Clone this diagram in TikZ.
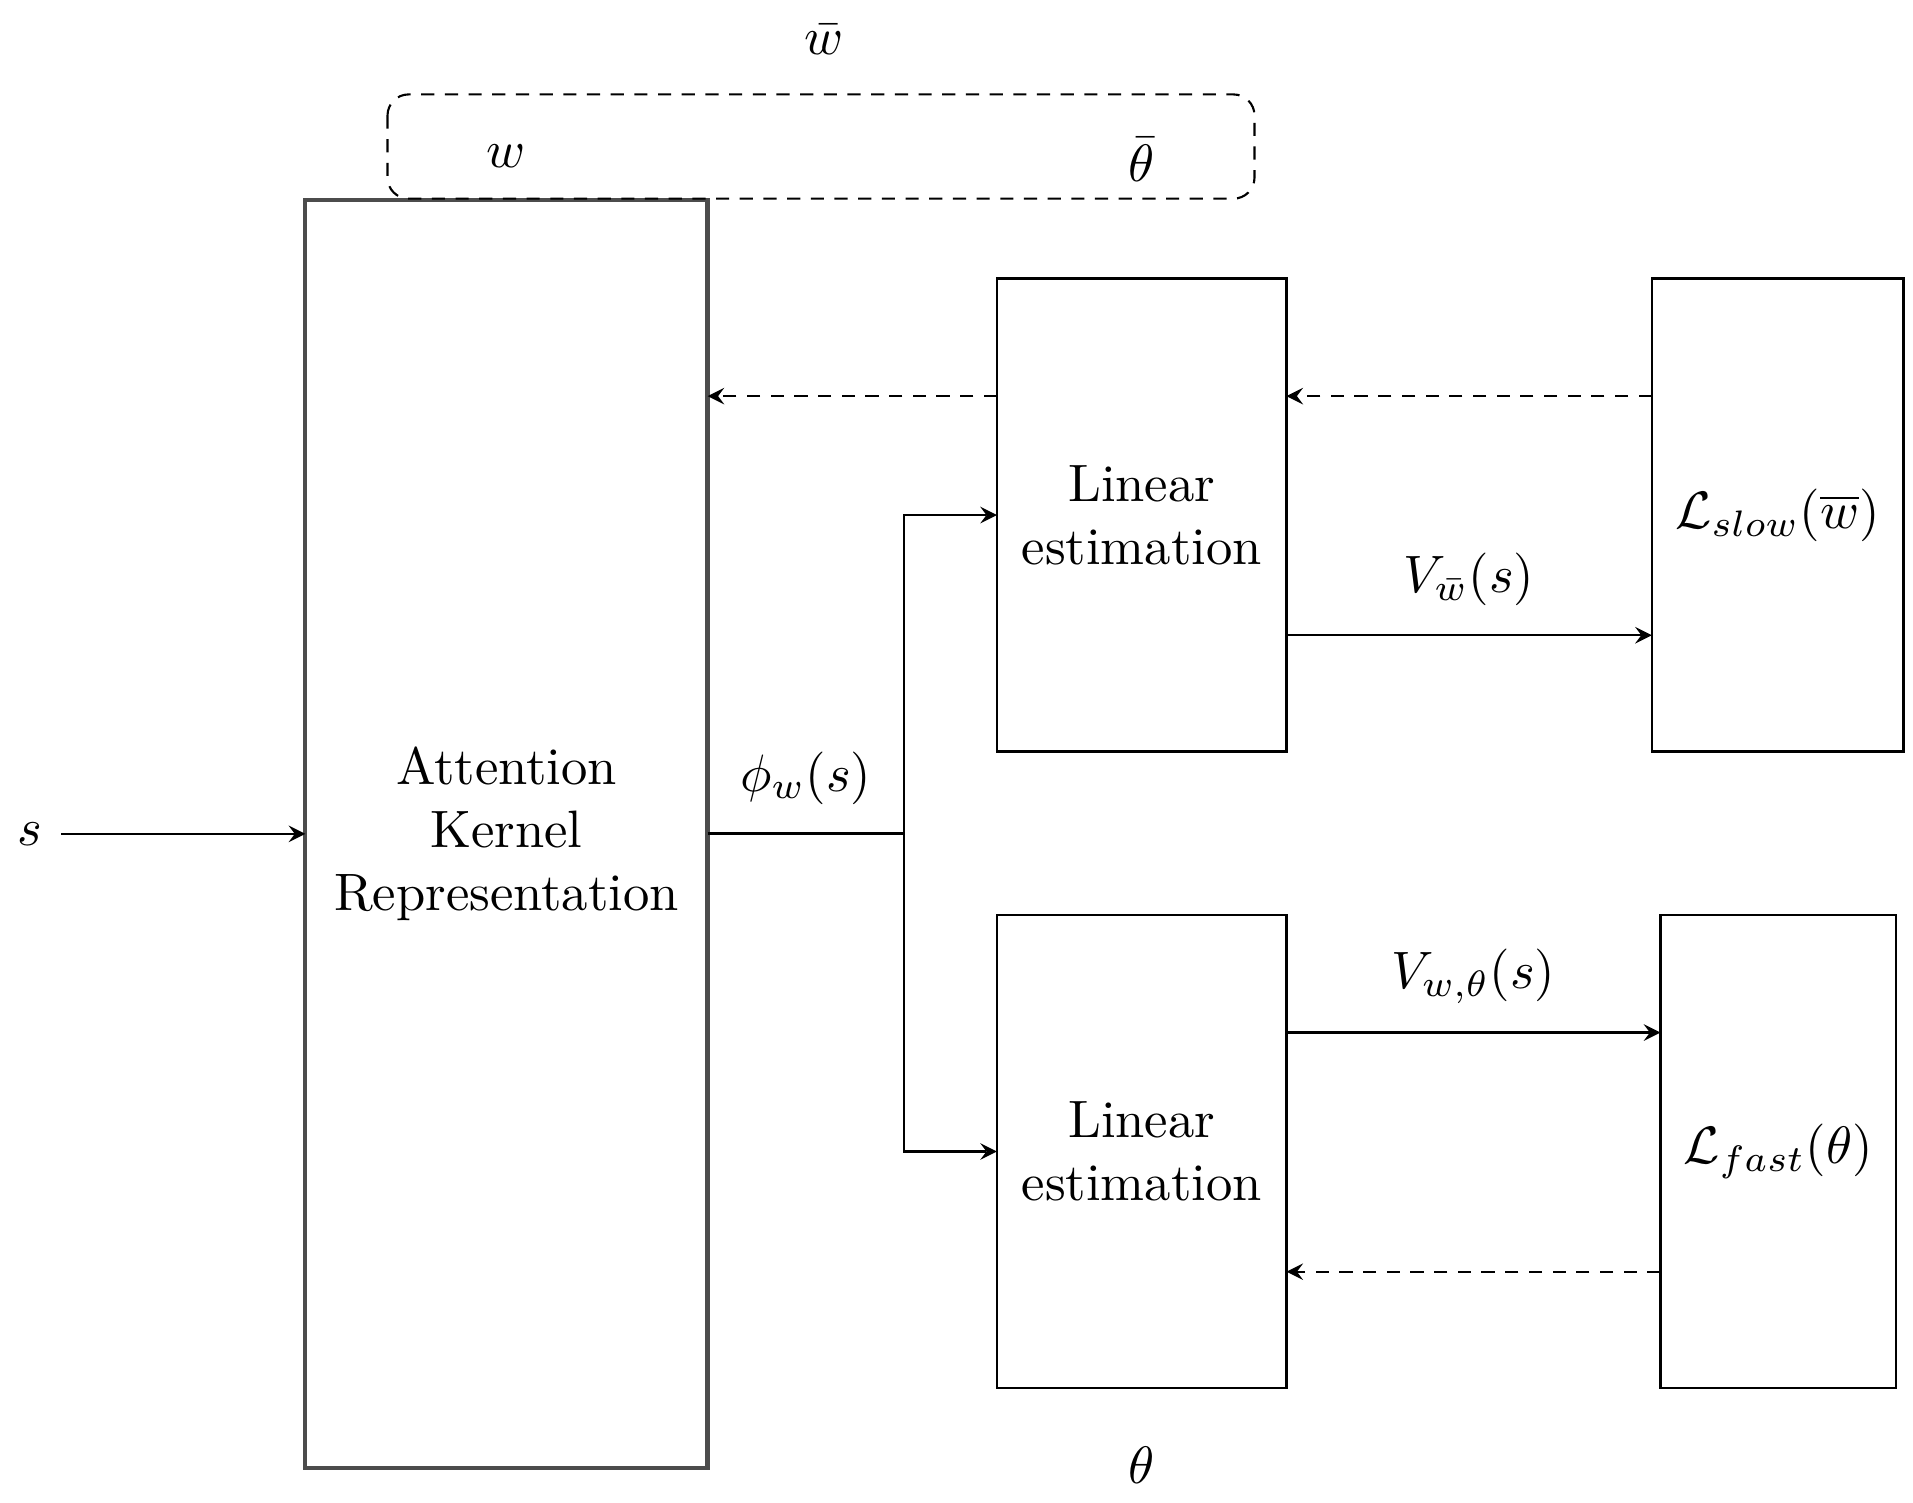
\documentclass[tikz,border=0pt]{standalone}
\usepackage{amsmath}
\begin{document}
\begin{tikzpicture}[x=0.233pt,y=-0.233pt,
  box/.style={draw,line width=0.5pt,inner sep=0pt,outer sep=0pt,align=center},
  arr/.style={->,>=stealth,line width=0.4pt},
  darr/.style={->,>=stealth,dash pattern=on 2.5pt off 2pt,line width=0.4pt}]
\useasboundingbox (0,0) rectangle (1560,1225);
\node[box,minimum width=328*0.233pt,minimum height=1034*0.233pt,draw=black!70,line width=0.8pt] (att) at (413,680) {Attention\\Kernel\\Representation};
\node[box,minimum width=236*0.233pt,minimum height=386*0.233pt] (lin1) at (931,420) {Linear\\estimation};
\node[box,minimum width=205*0.233pt,minimum height=386*0.233pt] (ls) at (1449.5,420) {$\mathcal{L}_{slow}(\overline{w})$};
\node[box,minimum width=236*0.233pt,minimum height=386*0.233pt] (lin2) at (931,939) {Linear\\estimation};
\node[box,minimum width=192*0.233pt,minimum height=386*0.233pt] (lf) at (1450,939) {$\mathcal{L}_{fast}(\theta)$};
\draw[dash pattern=on 2.5pt off 2pt,rounded corners=4pt,line width=0.4pt] (316,77) rectangle (1023,162);
\node (wbar) at (672,32) {$\bar{w}$};
\node (w) at (413,127) {$w$};
\node (thbar) at (931,130) {$\bar{\theta}$};
\node (th) at (931,1195) {$\theta$};
\node (s) at (24,680) {$s$};
\draw[arr] (50,680) -- (att.west);
\coordinate (j) at (737,680);
\draw[line width=0.6pt] (att.east) -- node[above=2pt] {$\phi_w(s)$} (j);
\draw[arr] (j) |- (lin1.west);
\draw[arr] (j) |- (lin2.west);
\draw[darr] (lin1.west |- 0,323) -- (att.east |- 0,323);
\draw[darr] (ls.west |- 0,323) -- (lin1.east |- 0,323);
\draw[darr] (lf.west |- 0,1037) -- (lin2.east |- 0,1037);
\draw[arr] (lin1.east |- 0,518) -- node[above=2pt] {$V_{\bar{w}}(s)$} (ls.west |- 0,518);
\draw[arr] (lin2.east |- 0,842) -- node[above=2pt] {$V_{w,\theta}(s)$} (lf.west |- 0,842);
\end{tikzpicture}
\end{document}
